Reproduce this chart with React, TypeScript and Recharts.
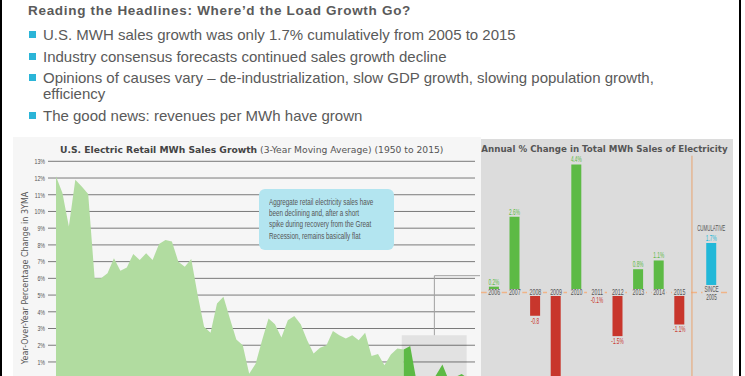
import React from 'react';
import {
  ComposedChart,
  Area,
  Bar,
  Cell,
  Scatter,
  XAxis,
  YAxis,
  CartesianGrid,
  ReferenceArea,
  ReferenceLine,
  LabelList,
} from 'recharts';

// left chart: 3-year moving average of retail MWh sales growth, %
const years = Array.from({ length: 66 }, (_, i) => 1950 + i);
const growth3yma = [
  12.1, 11.1, 9.1, 11.9, 11.5, 11.05, 6.0, 6.0, 6.3, 7.2,
  6.45, 6.65, 7.45, 7.1, 7.5, 7.1, 8.05, 8.3, 8.2, 7.0,
  6.7, 7.15, 5.0, 3.1, 2.75, 4.5, 4.9, 3.6, 2.35, 2.0,
  0.3, 0.9, 2.3, 3.6, 3.25, 2.47, 3.5, 3.75, 3.25, 2.3,
  1.5, 1.85, 2.0, 2.85, 2.6, 2.4, 2.6, 2.3, 2.75, 1.35,
  1.48, 0.8, 1.45, 1.8, 1.75, 1.95, -0.2, -0.6, -0.3, 0.2,
  0.85, -0.1, 0.1, 0.28, 0.0, -0.2,
];
const highlightStart = 2004;
const yTicks = [1, 2, 3, 4, 5, 6, 7, 8, 9, 10, 11, 12, 13];

// right chart: annual % change
const annualYears = ['2006', '2007', '2008', '2009', '2010', '2011', '2012', '2013', '2014', '2015'];
const annualChange = [0.2, 2.6, -0.8, -4.2, 4.4, -0.1, -1.5, 0.8, 1.1, -1.1];
const annualLabels = ['0.2%', '2.6%', '-0.8', '', '4.4%', '-0.1%', '-1.5%', '0.8%', '1.1%', '-1.1%'];
const cumulativeChange = 1.7;
const cumulativeLabel = '1.7%';

const bullets = [
  ['U.S. MWH sales growth was only 1.7% cumulatively from 2005 to 2015'],
  ['Industry consensus forecasts continued sales growth decline'],
  ['Opinions of causes vary \u2013 de-industrialization, slow GDP growth, slowing population growth,', 'efficiency'],
  ['The good news: revenues per MWh have grown'],
];
const calloutLines = [
  'Aggregate retail electricity sales have',
  'been declining and, after a short',
  'spike during recovery from the Great',
  'Recession, remains basically flat',
];

const WIDE = "'DejaVu Sans', Verdana, sans-serif";
const SLIDE = "'Liberation Sans', Arial, sans-serif";
const PANEL = '#dcdcdc';
const GREEN = '#5dba45';
const RED = '#c8362c';
const CYAN = '#22b8d8';

const growthRows = years.map((year, i) => ({
  year,
  light: year <= highlightStart ? growth3yma[i] : null,
  dark: year >= highlightStart ? growth3yma[i] : null,
}));

const annualRows = [
  ...annualYears.map((year, i) => ({
    pos: i,
    value: annualChange[i],
    label: annualLabels[i],
    year,
    zero: 0,
    cumulative: false,
  })),
  {
    pos: annualYears.length + 0.55,
    value: cumulativeChange,
    label: cumulativeLabel,
    year: 'SINCE\n2005',
    zero: 0,
    cumulative: true,
  },
];

// condensed lettering: squeeze Liberation Sans horizontally
const Narrow = ({ x, y, children, fill = '#555', size = 8.5, squeeze = 0.62, anchor = 'middle' }: any) => (
  <text
    transform={`translate(${x},${y}) scale(${squeeze},1)`}
    textAnchor={anchor}
    fontFamily={SLIDE}
    fontSize={size}
    fill={fill}
  >
    {children}
  </text>
);

const PctTick = (props: any) => {
  const { x, y, payload } = props;
  return (
    <Narrow x={x} y={y + 2.8} anchor="end" size={8} squeeze={0.66} fill="#555">
      {`${payload.value}%`}
    </Narrow>
  );
};

const ValueTag = (props: any) => {
  const vb = props.viewBox || props;
  const { x, y, width, height } = vb;
  const row =
    typeof props.index === 'number' ? annualRows[props.index] : annualRows.find((r) => r.label === props.value);
  if (!row || !row.label) return null;
  const top = Math.min(y, y + height);
  const bottom = Math.max(y, y + height);
  const cx = x + width / 2;
  const neg = row.value < 0;
  const color = row.cumulative ? CYAN : neg ? RED : GREEN;
  return (
    <g>
      {row.cumulative && (
        <Narrow x={cx} y={top - 12.3} size={8.5} squeeze={0.52} fill="#555">
          CUMULATIVE
        </Narrow>
      )}
      <Narrow x={cx} y={neg ? bottom + 8 : top - 2} size={8.5} squeeze={0.56} fill={color}>
        {row.label}
      </Narrow>
    </g>
  );
};

const YearTag = (props: any) => {
  const { cx, cy, payload } = props;
  const lines = String(payload.year).split('\n');
  const cum = payload.cumulative;
  return (
    <g>
      <rect
        x={cx - (cum ? 9 : 7.5)}
        y={cum ? cy - 7.5 : cy - 3.5}
        width={cum ? 18 : 15}
        height={cum ? 17 : 7}
        fill={PANEL}
      />
      {lines.map((l, i) => (
        <Narrow key={l} x={cx} y={(cum ? cy - 0.3 : cy + 3) + i * 8.2} size={8.5} squeeze={cum ? 0.55 : 0.62}>
          {l}
        </Narrow>
      ))}
    </g>
  );
};

const GrowthChart = () => (
  <div style={{ position: 'absolute', left: 0, top: 0 }}>
    <ComposedChart
      width={480}
      height={400}
      data={growthRows}
      margin={{ top: 161.3, right: 5, left: 18, bottom: 4.6 }}
    >
      <CartesianGrid vertical={false} stroke="#7a7a7a" />
      <XAxis dataKey="year" type="number" domain={[1948.76, 2015.06]} allowDataOverflow hide />
      <YAxis
        type="number"
        domain={[-1, 13]}
        ticks={yTicks}
        interval={0}
        allowDataOverflow
        width={30}
        tickSize={0}
        tickMargin={3}
        axisLine={false}
        tick={<PctTick />}
      />
      <ReferenceArea x1={2003.68} x2={2013.77} y1={-1} y2={2.6} fill="#000" fillOpacity={0.08} stroke="none" />
      <Area type="linear" dataKey="light" fill="#b1dca0" fillOpacity={1} stroke="none" isAnimationActive={false} />
      <Area type="linear" dataKey="dark" fill={GREEN} fillOpacity={1} stroke="none" isAnimationActive={false} />
      <ReferenceLine
        segment={[{ x: 2008.75, y: 2.6 }, { x: 2008.75, y: 6.16 }]}
        stroke="#a0a0a0"
        ifOverflow="visible"
      />
      <ReferenceLine
        segment={[{ x: 2008.75, y: 6.16 }, { x: 2016, y: 6.16 }]}
        stroke="#a0a0a0"
        ifOverflow="visible"
      />
    </ComposedChart>
  </div>
);

const AnnualChart = () => (
  <div style={{ position: 'absolute', left: 480.5, top: 0 }}>
    <ComposedChart
      width={252}
      height={440}
      data={annualRows}
      margin={{ top: 155.7, right: 2, left: 0, bottom: 2 }}
    >
      <XAxis dataKey="pos" type="number" domain={[-0.641, 11.495]} allowDataOverflow hide />
      <YAxis type="number" domain={[-5, 4.7]} allowDataOverflow hide />
      <ReferenceLine y={0} stroke="#f0b488" strokeWidth={1.5} strokeDasharray="6 4" />
      <ReferenceLine x={annualYears.length - 0.4} stroke="#e9a46e" />
      <Bar dataKey="value" barSize={10} isAnimationActive={false}>
        {annualRows.map((r) => (
          <Cell key={r.year} fill={r.cumulative ? CYAN : r.value < 0 ? RED : GREEN} />
        ))}
        <LabelList dataKey="label" content={ValueTag} />
      </Bar>
      <Scatter dataKey="zero" shape={YearTag} isAnimationActive={false} />
    </ComposedChart>
  </div>
);

export default function App() {
  return (
    <div
      style={{
        position: 'absolute',
        left: 0,
        top: 0,
        width: 745,
        height: 376,
        overflow: 'hidden',
        background: '#fff',
      }}
    >
      {/* slide frame */}
      <div style={{ position: 'absolute', left: 0, top: 0, width: 2, height: 376, background: '#000' }} />
      <div style={{ position: 'absolute', left: 739, top: 0, width: 2, height: 376, background: '#000' }} />

      <div
        style={{
          position: 'absolute',
          left: 28,
          top: 3,
          fontFamily: SLIDE,
          fontWeight: 'bold',
          fontSize: 13.5,
          letterSpacing: 0.7,
          color: '#5a5a5a',
          whiteSpace: 'nowrap',
        }}
      >
        Reading the Headlines: Where&rsquo;d the Load Growth Go?
      </div>
      <div
        style={{
          position: 'absolute',
          left: 29,
          top: 27,
          fontFamily: SLIDE,
          fontSize: 15,
          color: '#5a5a5a',
        }}
      >
        {bullets.map((lines, i) => (
          <div key={i} style={{ position: 'relative', paddingLeft: 14, marginBottom: 5.6, lineHeight: '16px' }}>
            <div style={{ position: 'absolute', left: 0, top: 4, width: 7, height: 7, background: '#2bb5d8' }} />
            {lines.map((l) => (
              <div key={l} style={{ whiteSpace: 'nowrap' }}>
                {l}
              </div>
            ))}
          </div>
        ))}
      </div>

      {/* panels */}
      <div style={{ position: 'absolute', left: 12.7, top: 137.3, width: 468, height: 260, background: '#f6f6f6' }} />
      <div style={{ position: 'absolute', left: 480.5, top: 139, width: 252, height: 260, background: PANEL }} />

      <div
        style={{
          position: 'absolute',
          left: 60,
          top: 143.5,
          fontFamily: WIDE,
          fontSize: 9.2,
          color: '#555',
          whiteSpace: 'nowrap',
        }}
      >
        <span style={{ fontWeight: 'bold', color: '#444' }}>U.S. Electric Retail MWh Sales Growth</span> (3-Year
        Moving Average) (1950 to 2015)
      </div>
      <div
        style={{
          position: 'absolute',
          left: 481.3,
          top: 143.5,
          fontFamily: WIDE,
          fontSize: 8.7,
          fontWeight: 'bold',
          color: '#555',
          whiteSpace: 'nowrap',
        }}
      >
        Annual % Change in Total MWh Sales of Electricity
      </div>
      <div
        style={{
          position: 'absolute',
          left: 26 - 90,
          top: 278 - 5,
          width: 180,
          textAlign: 'center',
          transform: 'rotate(-90deg)',
          fontFamily: WIDE,
          fontSize: 8,
          lineHeight: '10px',
          color: '#555',
          whiteSpace: 'nowrap',
        }}
      >
        Year-Over-Year Percentage Change in 3YMA
      </div>

      <GrowthChart />
      <AnnualChart />

      <div
        style={{
          position: 'absolute',
          left: 259,
          top: 189,
          width: 135,
          height: 61,
          boxSizing: 'border-box',
          padding: '7.5px 0 0 10px',
          background: '#b3e5f0',
          borderRadius: 6,
          fontFamily: SLIDE,
          fontSize: 9,
          lineHeight: '11.4px',
          color: '#555',
        }}
      >
        {calloutLines.map((l) => (
          <div key={l} style={{ whiteSpace: 'nowrap' }}>
            <span style={{ display: 'inline-block', transform: 'scaleX(0.7)', transformOrigin: '0 0' }}>{l}</span>
          </div>
        ))}
      </div>
    </div>
  );
}
